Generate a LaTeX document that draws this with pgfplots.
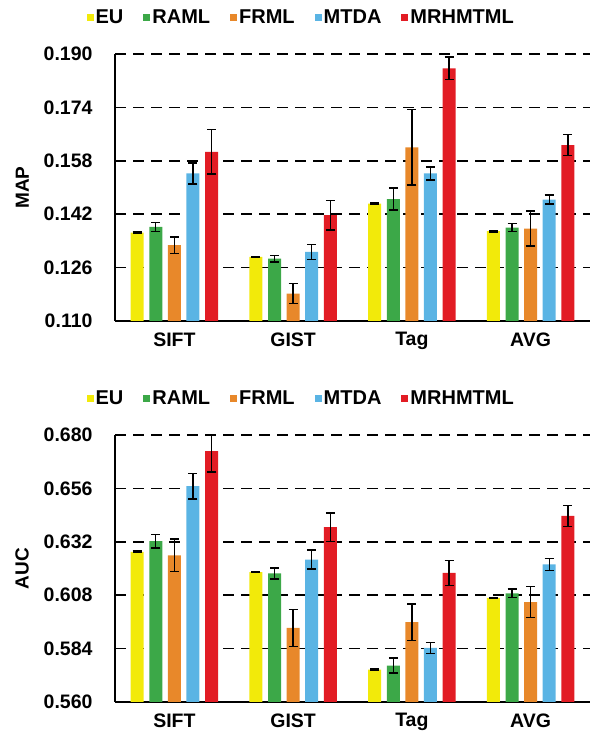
\documentclass[border=0pt]{standalone}
\usepackage{fontspec}
\setmainfont{Liberation Sans}
\usepackage{pgfplots}
\usepackage{pgfplotstable}
\pgfplotsset{compat=1.18}
\definecolor{cEU}{RGB}{242,234,10}
\definecolor{cRA}{RGB}{60,168,72}
\definecolor{cFR}{RGB}{232,136,42}
\definecolor{cMT}{RGB}{90,180,228}
\definecolor{cMR}{RGB}{226,28,36}
\pgfplotstableread{
x EU EUe RA RAe FR FRe MT MTe MR MRe
0 0.1365 0.0002 0.1382 0.0014 0.1327 0.0025 0.1542 0.0032 0.1607 0.0066
1 0.1292 0.0002 0.1287 0.0010 0.1182 0.0030 0.1307 0.0023 0.1417 0.0044
2 0.1452 0.0002 0.1465 0.0033 0.1620 0.0113 0.1542 0.0020 0.1857 0.0034
3 0.1369 0.0002 0.1380 0.0012 0.1377 0.0052 0.1464 0.0013 0.1627 0.0032
}\mapdata
\pgfplotstableread{
x EU EUe RA RAe FR FRe MT MTe MR MRe
0 0.6275 0.0003 0.6323 0.0030 0.6259 0.0073 0.6570 0.0058 0.6728 0.0094
1 0.6184 0.0003 0.6178 0.0025 0.5933 0.0083 0.6240 0.0043 0.6386 0.0064
2 0.5746 0.0003 0.5764 0.0033 0.5959 0.0082 0.5843 0.0024 0.6180 0.0056
3 0.6068 0.0003 0.6088 0.0019 0.6049 0.0070 0.6218 0.0028 0.6436 0.0046
}\aucdata
\pgfplotsset{
  mychart/.style={
    scale only axis, width=475pt, height=267pt,
    anchor=south west,
    axis lines=left,
    axis line style={-, line width=1.3pt, black},
    xmin=-0.5, xmax=3.5,
    xtick={0,1,2,3},
    xticklabels={SIFT,GIST,Tag,AVG},
    x tick style={draw=none},
    extra x ticks={-0.5,0.5,1.5,2.5,3.5},
    extra x tick labels={},
    extra x tick style={major tick length=10pt, tick align=center, tick style={line width=1.3pt, black}, grid=none},
    y tick style={line width=1.3pt, black},
    tick align=inside, major tick length=10pt,
    ymajorgrids,
    major grid style={black, line width=1.7pt, dash pattern=on 11pt off 7pt},
    ybar=5.6pt, bar width=13pt,
    every tick label/.append style={font=\fontsize{19.5}{21}\selectfont\bfseries},
    /pgf/number format/assume math mode=true,
    yticklabel style={/pgf/number format/fixed, /pgf/number format/precision=3, /pgf/number format/fixed zerofill, xshift=-19pt},
    xticklabel style={yshift=2pt},
    label style={font=\fontsize{19}{21}\selectfont\bfseries},
    ylabel style={yshift=8pt},
    legend columns=5,
    legend style={draw=none, fill=none, font=\fontsize{20}{22}\selectfont\bfseries,
      at={(axis description cs:0.392,1.139)}, anchor=center,
      /tikz/every even column/.append style={column sep=18pt},
      inner sep=0pt},
    legend image code/.code={\fill[##1] (0pt,-4pt) rectangle (7pt,3pt);},
    every axis plot/.append style={draw=none,
      /pgfplots/error bars/y dir=both, /pgfplots/error bars/y explicit,
      /pgfplots/error bars/error bar style={line width=1.4pt, black},
      /pgfplots/error bars/error mark options={rotate=90, mark size=4.5pt, line width=1.4pt, black}},
  }
}
\begin{document}
\begin{tikzpicture}
\useasboundingbox (0,0) rectangle (595pt,731pt);
\begin{axis}[mychart, at={(115pt,410pt)},
  ymin=0.110, ymax=0.190, ytick={0.110,0.126,0.142,0.158,0.174,0.190},
  ylabel={MAP}]
\addplot[fill=cEU] table[x=x,y=EU,y error=EUe]{\mapdata};
\addplot[fill=cRA] table[x=x,y=RA,y error=RAe]{\mapdata};
\addplot[fill=cFR] table[x=x,y=FR,y error=FRe]{\mapdata};
\addplot[fill=cMT] table[x=x,y=MT,y error=MTe]{\mapdata};
\addplot[fill=cMR] table[x=x,y=MR,y error=MRe]{\mapdata};
\legend{EU,RAML,FRML,MTDA,MRHMTML}
\end{axis}
\begin{axis}[mychart, at={(115pt,29pt)},
  ymin=0.560, ymax=0.680, ytick={0.560,0.584,0.608,0.632,0.656,0.680},
  ylabel={AUC}]
\addplot[fill=cEU] table[x=x,y=EU,y error=EUe]{\aucdata};
\addplot[fill=cRA] table[x=x,y=RA,y error=RAe]{\aucdata};
\addplot[fill=cFR] table[x=x,y=FR,y error=FRe]{\aucdata};
\addplot[fill=cMT] table[x=x,y=MT,y error=MTe]{\aucdata};
\addplot[fill=cMR] table[x=x,y=MR,y error=MRe]{\aucdata};
\legend{EU,RAML,FRML,MTDA,MRHMTML}
\end{axis}
\end{tikzpicture}
\end{document}
